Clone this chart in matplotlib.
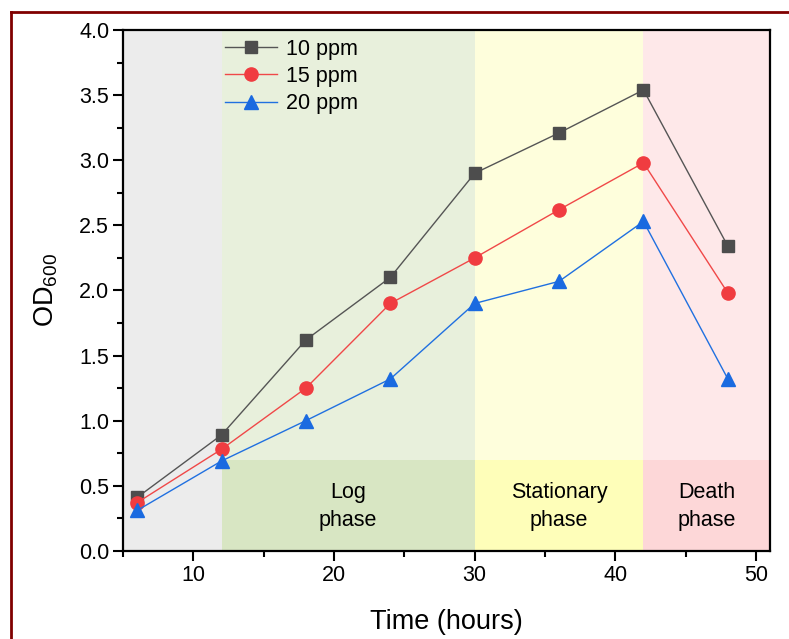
import matplotlib
matplotlib.use("Agg")
import matplotlib.pyplot as plt
from matplotlib.lines import Line2D
from matplotlib.ticker import MultipleLocator, FormatStrFormatter

plt.rcParams["font.family"] = ["Liberation Sans", "DejaVu Sans"]

# Datos
horas = [6, 12, 18, 24, 30, 36, 42, 48]
od_10 = [0.41, 0.89, 1.62, 2.10, 2.90, 3.21, 3.54, 2.34]
od_15 = [0.37, 0.78, 1.25, 1.90, 2.25, 2.62, 2.98, 1.98]
od_20 = [0.31, 0.69, 1.00, 1.32, 1.90, 2.07, 2.53, 1.32]

# Fases: inicio, fin, color claro, color oscuro, etiqueta
fases = [
    (5, 12, "#ececec", "#ececec", ""),
    (12, 30, "#e8f0dc", "#d8e6c3", "Log\nphase"),
    (30, 42, "#fefedc", "#fefeb9", "Stationary\nphase"),
    (42, 51, "#fee8e9", "#fdd7d8", "Death\nphase"),
]
banda = 0.7

fig = plt.figure(figsize=(7.89, 6.39), dpi=100)
ax = fig.add_axes([0.156, 0.138, 0.820, 0.815])

for x0, x1, c_claro, c_oscuro, etiqueta in fases:
    ax.axvspan(x0, x1, ymin=0, ymax=1, color=c_claro, lw=0, zorder=0)
    ax.fill_between([x0, x1], 0, banda, color=c_oscuro, lw=0, zorder=0.5)
    if etiqueta:
        ax.text((x0 + x1) / 2, banda / 2 - 0.01, etiqueta, ha="center", va="center",
                fontsize=15.5, linespacing=1.4, zorder=1)

ax.plot(horas, od_10, color="#555555", lw=1, marker="s", ms=8.5,
        mfc="#4d4d4d", mec="#4d4d4d", label="10 ppm", zorder=3)
ax.plot(horas, od_15, color="#f04848", lw=1, marker="o", ms=9.5,
        mfc="#f03c40", mec="#f03c40", label="15 ppm", zorder=3)
ax.plot(horas, od_20, color="#2070e0", lw=1, marker="^", ms=10,
        mfc="#1a6ae0", mec="#1a6ae0", label="20 ppm", zorder=3)

ax.set_xlim(5, 51)
ax.set_ylim(0, 4.0)
ax.xaxis.set_major_locator(MultipleLocator(10))
ax.xaxis.set_minor_locator(MultipleLocator(5))
ax.yaxis.set_major_locator(MultipleLocator(0.5))
ax.yaxis.set_minor_locator(MultipleLocator(0.25))
ax.yaxis.set_major_formatter(FormatStrFormatter("%.1f"))
ax.tick_params(which="major", direction="out", length=7, width=1.5,
               labelsize=15.5, pad=3)
ax.tick_params(which="minor", direction="out", length=4, width=1.5)
for s in ax.spines.values():
    s.set_linewidth(1.6)

ax.set_xlabel("Time (hours)", fontsize=19.5, labelpad=17)
ax.set_ylabel("OD$_\\mathregular{600}$", fontsize=19.5, labelpad=14)

ax.legend(loc="upper left", bbox_to_anchor=(0.128, 1.02), frameon=False,
          fontsize=15.5, handlelength=2.4, handletextpad=0.4, labelspacing=0.28)

# Marco rojo oscuro de la figura
fig.add_artist(Line2D([11 / 789, 11 / 789], [0, 1 - 12 / 639],
                      transform=fig.transFigure, color="#800000", lw=2))
fig.add_artist(Line2D([11 / 789, 1], [1 - 12 / 639, 1 - 12 / 639],
                      transform=fig.transFigure, color="#800000", lw=2))

fig.savefig("out.png", dpi=100)
